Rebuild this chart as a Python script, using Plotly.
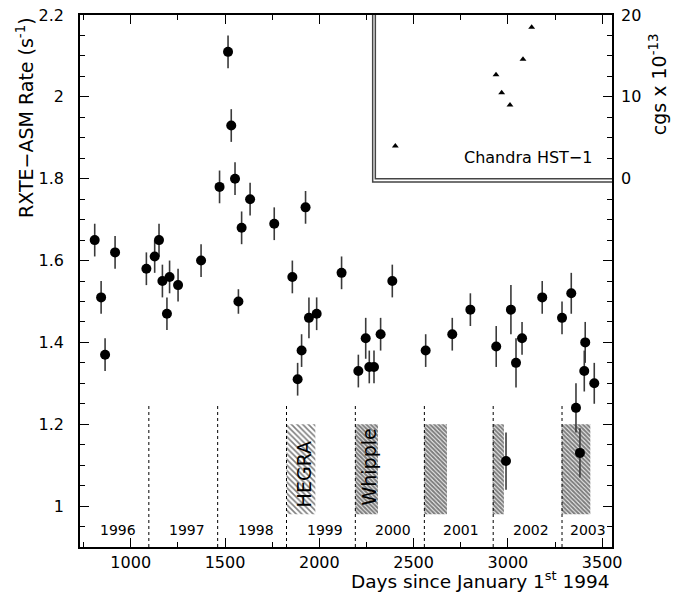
import plotly.graph_objects as go

# ---------------- data ----------------
days = [809, 843, 864, 917, 1083, 1127, 1150, 1168, 1192, 1206, 1251, 1373,
        1471, 1516, 1533, 1553, 1571, 1588, 1633, 1761, 1857, 1885, 1906, 1927,
        1945, 1986, 2118, 2207, 2246, 2265, 2290, 2325, 2387, 2564, 2705, 2801,
        2938, 2990, 3016, 3043, 3075, 3182, 3287, 3336, 3361, 3382, 3405, 3410,
        3458]
rates = [1.65, 1.51, 1.37, 1.62, 1.58, 1.61, 1.65, 1.55, 1.47, 1.56, 1.54, 1.60,
         1.78, 2.11, 1.93, 1.80, 1.50, 1.68, 1.75, 1.69, 1.56, 1.31, 1.38, 1.73,
         1.46, 1.47, 1.57, 1.33, 1.41, 1.34, 1.34, 1.42, 1.55, 1.38, 1.42, 1.48,
         1.39, 1.11, 1.48, 1.35, 1.41, 1.51, 1.46, 1.52, 1.24, 1.13, 1.33, 1.40,
         1.30]
rate_err = [0.04, 0.04, 0.04, 0.04, 0.04, 0.04, 0.04, 0.04, 0.04, 0.04, 0.04, 0.04,
            0.04, 0.04, 0.04, 0.04, 0.03, 0.04, 0.04, 0.04, 0.04, 0.04, 0.04, 0.04,
            0.05, 0.04, 0.04, 0.04, 0.05, 0.04, 0.04, 0.04, 0.04, 0.04, 0.04, 0.04,
            0.05, 0.07, 0.06, 0.06, 0.04, 0.04, 0.04, 0.05, 0.06, 0.06, 0.05, 0.05,
            0.05]

chandra_days = [2403, 2937, 2967, 3011, 3080, 3126]
chandra_flux = [4.0, 12.7, 10.5, 9.0, 14.6, 18.5]

year_starts = [1096, 1461, 1826, 2191, 2557, 2922, 3287]
year_labels = ["1996", "1997", "1998", "1999", "2000", "2001", "2002", "2003"]
year_label_days = [934, 1298, 1665, 2030, 2391, 2752, 3121, 3426]

obs_start = [1826, 2191, 2557, 2919, 3285]
obs_end = [1979, 2311, 2677, 2979, 3437]
obs_names = ["HEGRA", "Whipple", "", "", ""]
obs_name_x = [1920, 2265]
obs_name_y = [1.078, 1.095]

FONT = "DejaVu Sans"

fig = go.Figure()

# hatched observation windows
for i, (s, e) in enumerate(zip(obs_start, obs_end)):
    sparse = obs_names[i] == "HEGRA"
    fig.add_trace(go.Bar(
        x=[(s + e) / 2], y=[1.2 - 0.98], base=[0.98], width=[e - s],
        marker=dict(color="white", line=dict(width=0),
                    pattern=dict(shape="\\", fgcolor="black", bgcolor="white",
                                 size=4 if sparse else 3,
                                 solidity=0.4 if sparse else 0.72)),
        showlegend=False, hoverinfo="skip"))

# main light curve
fig.add_trace(go.Scatter(
    x=days, y=rates, mode="markers",
    marker=dict(symbol="circle", size=10, color="black"),
    error_y=dict(type="data", array=rate_err, visible=True,
                 color="#3a3a3a", thickness=1.6, width=0),
    showlegend=False, hoverinfo="skip"))

# Chandra inset on the right axis
fig.add_trace(go.Scatter(
    x=chandra_days, y=chandra_flux, yaxis="y2", mode="markers",
    marker=dict(symbol="triangle-up", size=6, color="black"),
    showlegend=False, hoverinfo="skip"))

shapes = []
for d in year_starts:
    shapes.append(dict(type="line", xref="x", yref="y", x0=d, x1=d, y0=0.9, y1=1.25,
                       line=dict(color="black", width=1, dash="3px,3px")))
# inset double frame
shapes.append(dict(type="rect", xref="x", yref="y", x0=2283, x1=3560, y0=1.792, y1=2.25,
                   line=dict(color="#444", width=1.5)))
shapes.append(dict(type="rect", xref="x", yref="y", x0=2297, x1=3560, y0=1.800, y1=2.25,
                   line=dict(color="#444", width=1.5)))

annotations = []
for lab, d in zip(year_labels, year_label_days):
    annotations.append(dict(x=d, y=0.941, xref="x", yref="y", text=lab, showarrow=False,
                            xanchor="center", yanchor="middle",
                            font=dict(family=FONT, size=14, color="black")))
for name, x, y in zip(obs_names[:2], obs_name_x, obs_name_y):
    annotations.append(dict(x=x, y=y, xref="x", yref="y", text=name, textangle=-90,
                            xanchor="center", yanchor="middle",
                            showarrow=False, font=dict(family=FONT, size=19, color="black")))
annotations.append(dict(x=3104, y=1.851, xref="x", yref="y", text="Chandra HST\u22121",
                        xanchor="center", yanchor="middle",
                        showarrow=False, font=dict(family=FONT, size=16, color="black")))
annotations.append(dict(x=-0.103, y=1.949, xref="paper", yref="y",
                        xanchor="center", yanchor="middle",
                        text="RXTE\u2212ASM Rate (s<sup>-1</sup>)", textangle=-90,
                        showarrow=False, font=dict(family=FONT, size=19, color="black")))
annotations.append(dict(x=1.0855, y=2.032, xref="paper", yref="y",
                        xanchor="center", yanchor="middle",
                        text="cgs x 10<sup>-13</sup>", textangle=-90,
                        showarrow=False, font=dict(family=FONT, size=19, color="black")))
annotations.append(dict(x=1.0, y=-0.0625, xref="paper", yref="paper", xanchor="right",
                        yanchor="middle", text="Days since January 1<sup>st</sup> 1994",
                        showarrow=False, font=dict(family=FONT, size=18.5, color="black")))

fig.update_layout(
    width=678, height=594,
    margin=dict(l=80, r=66, t=15, b=47, autoexpand=False),
    paper_bgcolor="white", plot_bgcolor="white",
    barmode="overlay", hovermode=False,
    font=dict(family=FONT, size=16, color="black"),
    shapes=shapes, annotations=annotations,
    xaxis=dict(range=[731, 3552], showgrid=False, zeroline=False,
               showline=True, linecolor="black", linewidth=1.5, mirror="ticks",
               ticks="inside", ticklen=9, tickwidth=1, tickcolor="black",
               tickmode="linear", tick0=0, dtick=500, ticklabelstandoff=0,
               minor=dict(ticks="inside", ticklen=5, dtick=250, tick0=0,
                          tickcolor="black", showgrid=False),
               tickfont=dict(family=FONT, size=16), automargin=False),
    yaxis=dict(range=[0.9, 2.2001], showgrid=False, zeroline=False,
               showline=True, linecolor="black", linewidth=1.5, mirror="ticks",
               ticks="inside", ticklen=9, tickwidth=1, tickcolor="black",
               tickmode="linear", tick0=1.0, dtick=0.2, ticklabelstandoff=11,
               ticklabeloverflow="allow",
               minor=dict(ticks="inside", ticklen=5, dtick=0.05, tick0=0,
                          tickcolor="black", showgrid=False),
               tickfont=dict(family=FONT, size=16), automargin=False),
    yaxis2=dict(range=[-45, 20.005], overlaying="y", side="right", showgrid=False,
                zeroline=False, showline=False, ticks="",
                tickmode="array", tickvals=[0, 10, 20],
                ticklabelstandoff=8, ticklabeloverflow="allow",
                tickfont=dict(family=FONT, size=16), automargin=False),
)

fig.write_html("out.html", config={"displayModeBar": False},
               post_script="document.body.style.margin='0';")
